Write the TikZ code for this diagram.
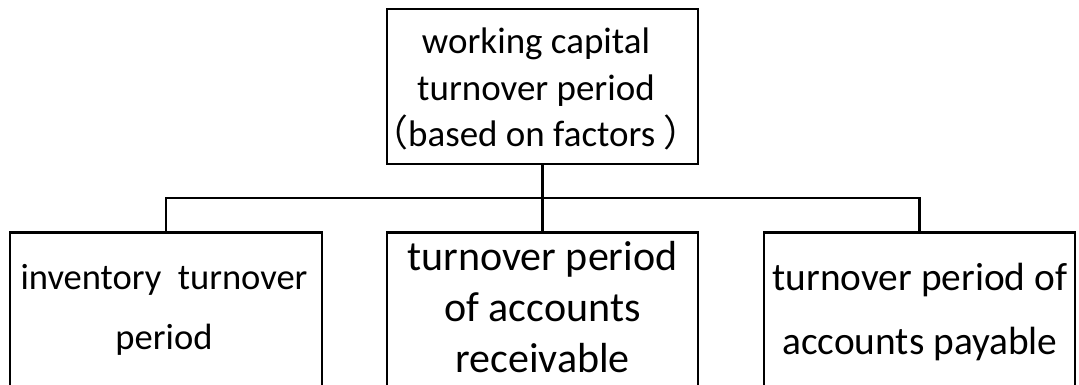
\documentclass[tikz,border=0pt]{standalone}
\usepackage{fontspec}
\setmainfont{Carlito}
\newfontfamily\cjk{Noto Sans CJK SC}

\begin{document}
\begin{tikzpicture}[line width=2.1pt,
  box/.style={draw, anchor=north, minimum width=7.775cm, minimum height=5cm},
  label/.style={anchor=base, align=center, inner sep=0pt}]

  \useasboundingbox (0,0) rectangle (26.975,-9.625);
  \clip (0,0) rectangle (26.975,-9.625);

  % Period
  \draw (13.5625,-2.1625) node[draw, inner sep=0pt, minimum width=7.775cm, minimum height=3.875cm] (period) {};
  \draw (13.4,-3.675) node[label, font=\fontsize{26.3}{33.4}\selectfont] (periodtext) {working capital\\turnover period\\{\cjk （}based on factors {\cjk ）}};

  % Factors
  \draw (4.15,-5.775) node[box, minimum width=7.8cm] (inventory) {};
  \draw (13.5625,-5.775) node[box] (receivable) {};
  \draw (22.9875,-5.775) node[box] (payable) {};

  \draw (4.1,-8.75) node[label, font=\fontsize{26}{42.7}\selectfont] (inventorytext) {inventory\ \ turnover\\period};
  \draw (13.5625,-9.325) node[label, font=\fontsize{29.9}{36.6}\selectfont] (receivabletext) {turnover period\\of accounts\\receivable};
  \draw (23,-8.875) node[label, font=\fontsize{28}{46.2}\selectfont] (payabletext) {turnover period of\\accounts payable};

  % Links
  \coordinate (bus) at (0,-4.95);
  \draw (period.south) -- (receivable.north);
  \draw (inventory.north) -- (inventory.north |- bus) -- (payable.north |- bus) -- (payable.north);

\end{tikzpicture}
\end{document}
